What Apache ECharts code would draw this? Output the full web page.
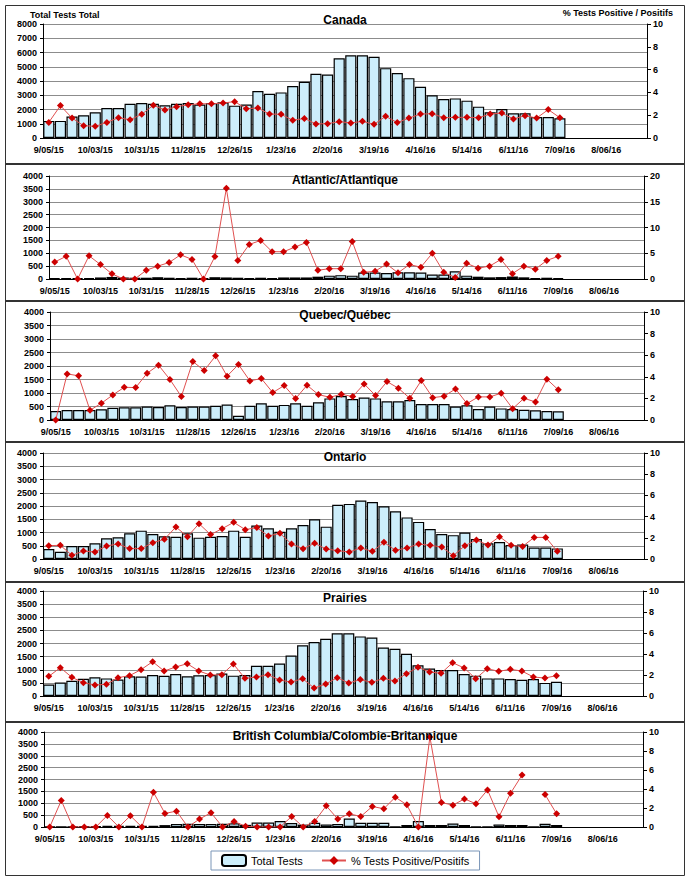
<!DOCTYPE html>
<html>
<head>
<meta charset="utf-8">
<script src="https://cdn.jsdelivr.net/npm/echarts@6/dist/echarts.min.js"></script>
<style>
html,body{margin:0;padding:0;background:#fff;}
#chart{width:690px;height:880px;}
</style>
</head>
<body>
<div id="chart"></div>
<script>
// Week labels (52 weeks)
const weeks = ['9/05/15','9/12/15','9/19/15','9/26/15','10/03/15','10/10/15','10/17/15','10/24/15','10/31/15','11/07/15','11/14/15','11/21/15','11/28/15','12/05/15','12/12/15','12/19/15','12/26/15','1/02/16','1/09/16','1/16/16','1/23/16','1/30/16','2/06/16','2/13/16','2/20/16','2/27/16','3/05/16','3/12/16','3/19/16','3/26/16','4/02/16','4/09/16','4/16/16','4/23/16','4/30/16','5/07/16','5/14/16','5/21/16','5/28/16','6/04/16','6/11/16','6/18/16','6/25/16','7/02/16','7/09/16','7/16/16','7/23/16','7/30/16','8/06/16','8/13/16','8/20/16','8/27/16'];

const canadaTests = [1200,1200,1500,1600,1800,2100,2100,2400,2450,2400,2300,2400,2450,2350,2450,2500,2270,2350,3300,3100,3200,3650,3950,4500,4450,5600,5800,5800,5700,4900,4560,4200,3600,3000,2740,2780,2620,2200,1800,2030,1730,1730,1470,1470,1380];
const canadaPos = [1.37,2.84,1.75,1.08,1.02,1.37,1.78,1.6,2.08,2.87,2.46,2.75,2.92,3.0,3.0,3.07,3.19,2.57,2.63,2.1,2.08,1.55,1.72,1.23,1.26,1.43,1.32,1.46,1.2,1.9,1.35,1.75,2.1,2.13,1.78,1.81,1.81,1.78,2.1,2.19,1.67,1.96,1.75,2.49,1.78];

const atlanticTests = [40,40,30,40,60,80,60,50,50,70,50,40,50,40,70,60,50,40,50,40,60,60,60,90,130,150,130,250,250,230,260,260,250,170,170,300,130,90,65,75,100,65,40,50,40];
const atlanticPos = [3.3,4.4,0,4.5,2.8,1.0,0,0,1.7,2.5,3.2,4.7,3.8,0,4.35,17.6,3.6,6.7,7.5,5.3,5.3,6.2,7.1,1.7,2.0,2.0,7.3,1.3,1.5,2.9,1.2,2.8,2.3,5.0,1.3,0.3,3.05,2.1,2.5,3.8,1.04,2.5,1.9,3.6,4.4];

const quebecTests = [330,370,370,370,400,450,470,470,500,480,545,480,500,500,530,570,160,530,620,530,560,620,530,660,800,890,780,830,800,690,690,740,590,590,590,500,545,410,500,430,410,380,360,330,320];
const quebecPos = [0,4.27,4.09,0.9,1.55,2.32,3.03,3.0,4.33,5.08,3.75,2.17,5.42,4.58,5.94,4.06,5.14,3.62,3.84,2.54,3.19,1.98,3.22,2.35,2.1,2.38,2.17,3.34,2.26,3.56,2.94,2.01,3.65,2.07,2.2,2.88,1.52,2.14,2.14,2.48,1.05,2.01,1.67,3.78,2.79];

const ontarioTests = [380,270,490,490,590,780,820,970,1070,940,855,840,970,805,840,870,1070,840,1260,1160,1030,1160,1280,1500,1220,2050,2080,2210,2150,1990,1800,1570,1400,1130,940,900,1000,755,590,640,530,550,430,430,400];
const ontarioPos = [1.26,1.29,0.35,0.75,0.66,1.23,1.42,0.98,0.98,1.54,1.86,3.02,2.11,3.33,2.3,2.86,3.46,2.77,2.96,2.17,2.42,1.42,0.97,1.48,0.94,0.79,0.66,1.04,0.72,1.57,0.82,1.04,1.42,1.29,1.13,0.31,1.26,1.79,1.32,2.11,1.29,1.19,2.04,2.04,0.72];

const prairiesTests = [440,510,580,660,710,670,630,750,740,800,770,840,750,790,800,860,775,800,1150,1150,1240,1540,1930,2060,2180,2390,2390,2270,2230,1850,1800,1610,1170,1050,990,990,840,775,670,670,650,620,650,500,545];
const prairiesPos = [1.87,2.7,1.78,1.27,1.05,1.11,1.75,1.94,2.51,3.27,2.38,2.76,3.08,2.38,2.0,2.03,3.05,1.68,1.81,2.03,1.52,1.33,1.65,0.76,1.14,1.75,1.24,1.56,1.3,1.68,1.43,2.13,2.73,2.29,2.16,3.17,2.67,1.65,2.6,2.35,2.54,2.38,1.81,1.71,1.94];

const bcTests = [10,10,10,30,40,50,50,50,50,50,80,130,140,130,130,140,160,90,190,190,250,170,100,180,110,130,360,180,180,180,20,85,250,85,85,150,85,20,20,110,85,85,10,140,85];
const bcPos = [0,2.79,0,0,0,1.22,0,1.18,0,3.66,1.43,1.67,0,0.84,1.5,0,0.59,0.07,0,0,0,1.11,0,0.59,2.23,0.84,1.39,1.11,2.16,1.92,3.14,2.33,0,9.48,2.58,2.3,2.96,2.44,3.9,1.08,3.55,5.47,null,3.41,1.39];

const panelTitles = ['Canada','Atlantic/Atlantique','Quebec/Québec','Ontario','Prairies','British Columbia/Colombie-Britannique'];
const leftMax = [8000,4000,4000,4000,4000,4000];
const leftStep = [1000,500,500,500,500,500];
const rightMax = [10,20,10,10,10,10];
const rightStep = [2,5,2,2,2,2];
const testsData = [canadaTests, atlanticTests, quebecTests, ontarioTests, prairiesTests, bcTests];
const posData = [canadaPos, atlanticPos, quebecPos, ontarioPos, prairiesPos, bcPos];

// layout
const grids = [
  {left:43, top:24, width:604, height:114},
  {left:49, top:176, width:595, height:103},
  {left:50, top:312, width:594, height:108},
  {left:43, top:453, width:601, height:106},
  {left:43, top:591, width:600, height:105},
  {left:44, top:732, width:599, height:95}
];
const titleY = [20, 180, 315, 457, 598, 736];
const FONT = '"Liberation Sans", Arial, sans-serif';
const plain = v => String(v);

const xAxis = [], yAxis = [], series = [], graphic = [];
grids.forEach((g, p) => {
  xAxis.push({
    type:'category', gridIndex:p, data:weeks, boundaryGap:true,
    axisLine:{lineStyle:{color:'#000', width:1}},
    axisTick:{interval:0, length:3, lineStyle:{color:'#000'}},
    axisLabel:{interval:3, fontSize:9, fontWeight:'bold', color:'#000', fontFamily:FONT, margin:7},
    splitLine:{show:false}
  });
  yAxis.push({
    type:'value', gridIndex:p, position:'left', min:0, max:leftMax[p], interval:leftStep[p],
    axisLine:{show:true, lineStyle:{color:'#000'}},
    axisTick:{show:true, length:3, lineStyle:{color:'#000'}},
    axisLabel:{fontSize:9, fontWeight:'bold', color:'#000', fontFamily:FONT, margin:6, formatter:plain},
    splitLine:{show:true, lineStyle:{color:'#8c8c8c', width:1}}
  });
  yAxis.push({
    type:'value', gridIndex:p, position:'right', min:0, max:rightMax[p], interval:rightStep[p],
    axisLine:{show:true, lineStyle:{color:'#000'}},
    axisTick:{show:true, length:4, lineStyle:{color:'#000'}},
    axisLabel:{fontSize:9, fontWeight:'bold', color:'#000', fontFamily:FONT, margin:6, formatter:plain},
    splitLine:{show:false}
  });
  series.push({
    name:'Total Tests', type:'bar', xAxisIndex:p, yAxisIndex:2*p,
    data:testsData[p], barCategoryGap:'4%',
    itemStyle:{color:'#cdeefb', borderColor:'#000', borderWidth:1.2},
    z:2
  });
  series.push({
    name:'% Tests Positive/Positifs', type:'line', xAxisIndex:p, yAxisIndex:2*p+1,
    data:posData[p], connectNulls:false,
    symbol:'diamond', symbolSize:7,
    lineStyle:{color:'#e05050', width:1},
    itemStyle:{color:'#cc0000'},
    z:5
  });
  graphic.push({
    type:'text', x:345, y:titleY[p],
    style:{text:panelTitles[p], font:'bold 12px ' + FONT, fill:'#000', textAlign:'center', textVerticalAlign:'middle'},
    z:100
  });
});

// frame and separators
graphic.push({type:'rect', shape:{x:5.5, y:5.5, width:679, height:870}, style:{fill:null, stroke:'#333', lineWidth:1}, z:50});
[164, 301, 442, 582, 722].forEach(y => {
  graphic.push({type:'line', shape:{x1:5, y1:y, x2:685, y2:y}, style:{stroke:'#333', lineWidth:2}, z:50});
});
graphic.push({type:'text', x:30, y:15, style:{text:'Total Tests Total', font:'bold 9px ' + FONT, fill:'#000', textVerticalAlign:'middle'}, z:100});
graphic.push({type:'text', x:673, y:13, style:{text:'% Tests Positive / Positifs', font:'bold 9px ' + FONT, fill:'#000', textAlign:'right', textVerticalAlign:'middle'}, z:100});

const chart = echarts.init(document.getElementById('chart'), null, {renderer:'svg'});
chart.setOption({
  animation:false,
  grid: grids,
  xAxis: xAxis,
  yAxis: yAxis,
  series: series,
  graphic: graphic,
  legend: {
    data:['Total Tests','% Tests Positive/Positifs'],
    left:211, top:851, itemGap:18, itemWidth:24, itemHeight:11,
    padding:[3,10,3,10],
    borderColor:'#7a96b8', borderWidth:1,
    textStyle:{fontSize:11, color:'#000', fontFamily:FONT}
  }
});
</script>
</body>
</html>
